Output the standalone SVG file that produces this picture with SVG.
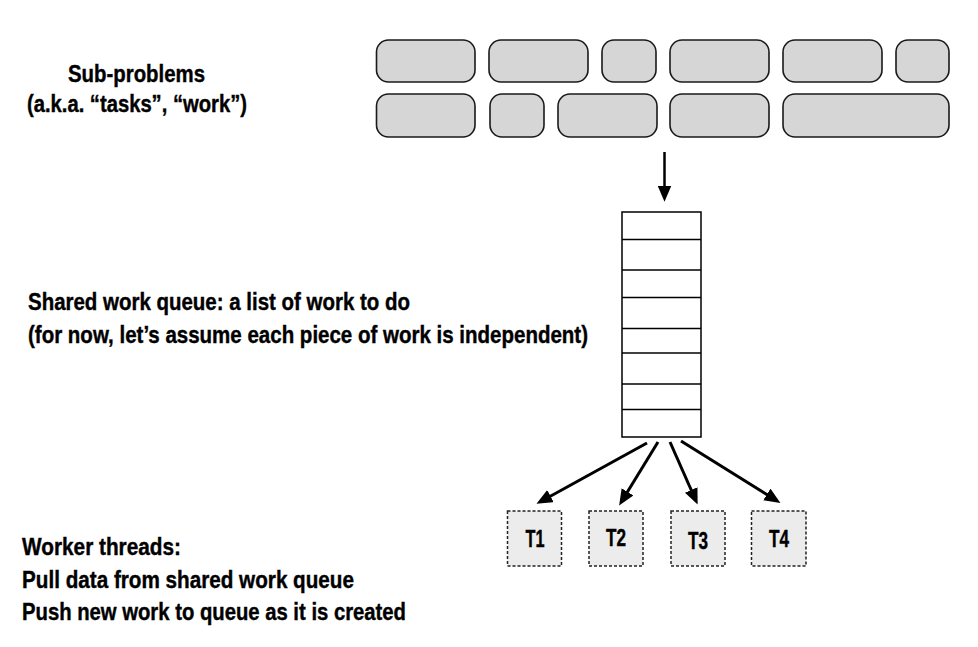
<svg xmlns="http://www.w3.org/2000/svg" width="978" height="647" viewBox="0 0 978 647">
<defs>
<style>
.task{fill:#d6d6d6;stroke:#1a1a1a;stroke-width:1.6}
.q{fill:#fff;stroke:#000;stroke-width:1.5}
.ql{stroke:#000;stroke-width:1.3}
.th{fill:#ececec;stroke:#222;stroke-width:1.5;stroke-dasharray:3 2}
.lbl{font-family:"Liberation Sans Narrow","Liberation Sans",Arial,sans-serif;font-weight:bold;font-size:24px;fill:#000;stroke:#000;stroke-width:0.4}
.tl{font-family:"Liberation Sans Narrow","Liberation Sans",Arial,sans-serif;font-weight:bold;font-size:23px;fill:#000;stroke:#000;stroke-width:0.4;text-anchor:middle}
.conn{stroke:#000;stroke-width:3;fill:none;marker-end:url(#ah)}
</style>
<marker id="ah" markerUnits="userSpaceOnUse" markerWidth="16" markerHeight="14" refX="2" refY="6" orient="auto" viewBox="0 0 14 12">
<path d="M0,0 L14,6 L0,12 z" fill="#000"/>
</marker>
</defs>
<rect width="978" height="647" fill="#fff"/>

<g id="labels">
<text class="lbl" x="68" y="82" textLength="137" lengthAdjust="spacingAndGlyphs">Sub-problems</text>
<text class="lbl" x="27" y="112" textLength="220" lengthAdjust="spacingAndGlyphs">(a.k.a. “tasks”, “work”)</text>
<text class="lbl" x="28" y="310" textLength="382" lengthAdjust="spacingAndGlyphs">Shared work queue: a list of work to do</text>
<text class="lbl" x="28" y="343" textLength="560" lengthAdjust="spacingAndGlyphs">(for now, let’s assume each piece of work is independent)</text>
<text class="lbl" x="22" y="555" textLength="159" lengthAdjust="spacingAndGlyphs">Worker threads:</text>
<text class="lbl" x="22" y="588" textLength="332" lengthAdjust="spacingAndGlyphs">Pull data from shared work queue</text>
<text class="lbl" x="22" y="620" textLength="384" lengthAdjust="spacingAndGlyphs">Push new work to queue as it is created</text>
</g>

<g id="subproblems">
<rect class="task" x="376.5" y="40" width="98.5" height="42" rx="12"/>
<rect class="task" x="489" y="40" width="99" height="42" rx="12"/>
<rect class="task" x="602" y="40" width="54" height="42" rx="12"/>
<rect class="task" x="670" y="40" width="99" height="42" rx="12"/>
<rect class="task" x="783" y="40" width="99" height="42" rx="12"/>
<rect class="task" x="896" y="40" width="53" height="42" rx="12"/>
<rect class="task" x="376.5" y="94" width="98.5" height="43" rx="12"/>
<rect class="task" x="490" y="94" width="54" height="43" rx="12"/>
<rect class="task" x="558" y="94" width="99" height="43" rx="12"/>
<rect class="task" x="670" y="94" width="99" height="43" rx="12"/>
<rect class="task" x="783" y="94" width="166" height="43" rx="12"/>
</g>

<g id="queue">
<rect class="q" x="622" y="212" width="79" height="225"/>
<line class="ql" x1="622" y1="239.5" x2="701" y2="239.5"/>
<line class="ql" x1="622" y1="270" x2="701" y2="270"/>
<line class="ql" x1="622" y1="297.5" x2="701" y2="297.5"/>
<line class="ql" x1="622" y1="328.5" x2="701" y2="328.5"/>
<line class="ql" x1="622" y1="353" x2="701" y2="353"/>
<line class="ql" x1="622" y1="384" x2="701" y2="384"/>
<line class="ql" x1="622" y1="409.5" x2="701" y2="409.5"/>
</g>

<g id="T1"><rect class="th" x="507.5" y="511" width="54" height="55"/><text class="tl" x="535" y="547" textLength="19" lengthAdjust="spacingAndGlyphs">T1</text></g>
<g id="T2"><rect class="th" x="589" y="511" width="54" height="55"/><text class="tl" x="616" y="546" textLength="20" lengthAdjust="spacingAndGlyphs">T2</text></g>
<g id="T3"><rect class="th" x="671" y="511" width="54" height="55"/><text class="tl" x="698" y="549" textLength="20" lengthAdjust="spacingAndGlyphs">T3</text></g>
<g id="T4"><rect class="th" x="751.5" y="511" width="54.5" height="55"/><text class="tl" x="779" y="547" textLength="20" lengthAdjust="spacingAndGlyphs">T4</text></g>

<g id="connectors">
<line class="conn" x1="664.5" y1="152" x2="664.5" y2="188" style="stroke-width:2.5"/>
<line class="conn" x1="647" y1="443" x2="548.5" y2="497.2"/>
<line class="conn" x1="658" y1="442" x2="626.3" y2="493.8"/>
<line class="conn" x1="670" y1="442" x2="692.1" y2="492"/>
<line class="conn" x1="681" y1="441" x2="768.8" y2="495.7"/>
</g>
</svg>
